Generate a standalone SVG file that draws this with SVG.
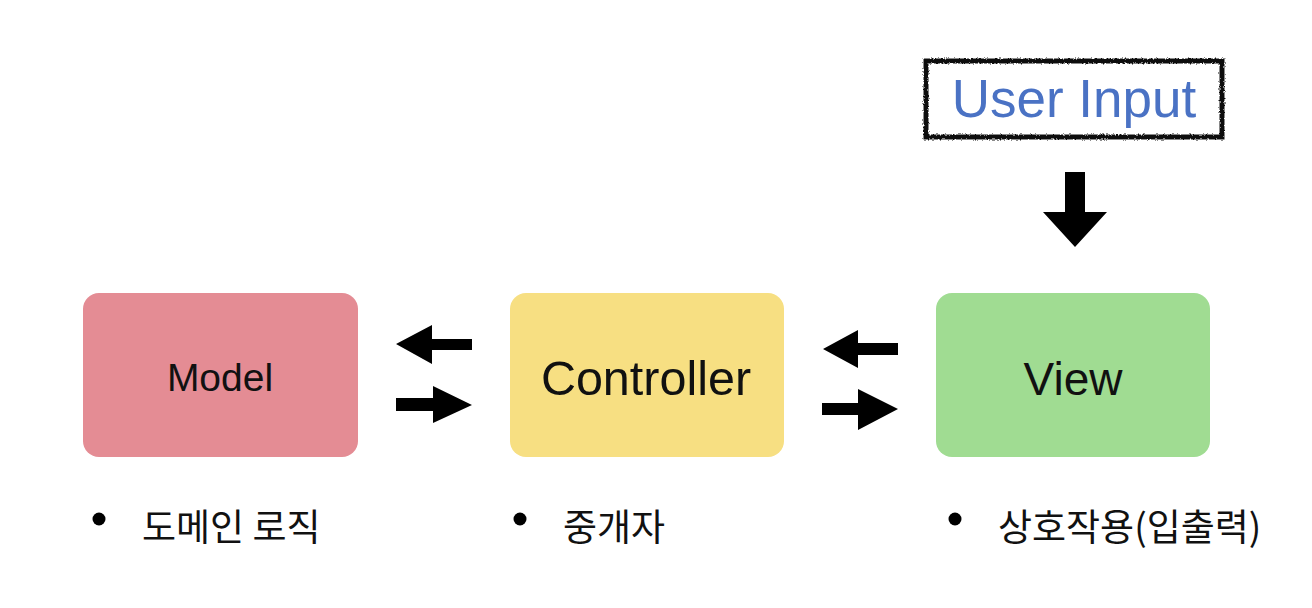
<svg xmlns="http://www.w3.org/2000/svg" width="1312" height="608" viewBox="0 0 1312 608">
  <style>
    .box-text { font-family: "Liberation Sans", Arial, sans-serif; fill: #111; text-anchor: middle; }
    .kr { font-family: "Noto Sans CJK KR", "Noto Sans", sans-serif; font-size: 37px; fill: #111; }
    .arrow { fill: #000; }
    .bullet { fill: #000; }
  </style>
  <defs>
    <filter id="rough" x="-5%" y="-10%" width="110%" height="120%">
      <feTurbulence type="fractalNoise" baseFrequency="0.6" numOctaves="2" seed="3" result="n"/>
      <feDisplacementMap in="SourceGraphic" in2="n" scale="3.5" xChannelSelector="R" yChannelSelector="G"/>
    </filter>
  </defs>
  <rect x="0" y="0" width="1312" height="608" fill="#ffffff"/>

  <g id="user-input">
    <rect x="926" y="61" width="296" height="76" fill="#ffffff" stroke="#111" stroke-width="5" filter="url(#rough)"/>
    <text x="1074" y="117" font-family="'Liberation Sans', Arial, sans-serif" font-size="53" fill="#4a72c4" text-anchor="middle">User Input</text>
  </g>

  <g id="model">
    <rect x="83" y="293" width="275" height="164" rx="16" fill="#e48c94"/>
    <text class="box-text" x="220" y="391" font-size="39">Model</text>
  </g>

  <g id="controller">
    <rect x="510" y="293" width="274" height="164" rx="16" fill="#f7df82"/>
    <text class="box-text" x="646" y="395" font-size="48.5">Controller</text>
  </g>

  <g id="view">
    <rect x="936" y="293" width="274" height="164" rx="16" fill="#a0dc92"/>
    <text class="box-text" x="1073" y="395" font-size="46">View</text>
  </g>

  <g id="connectors">
    <!-- User Input -> View (down) -->
    <polygon class="arrow" points="1065,172 1085,172 1085,212 1107,212 1075,247 1043,212 1065,212"/>
    <!-- Controller -> Model (left) -->
    <polygon class="arrow" points="396,344 432,325 432,339 472,339 472,350 432,350 432,364"/>
    <!-- Model -> Controller (right) -->
    <polygon class="arrow" points="396,398 433,398 433,386 472,405 433,423 433,411 396,411"/>
    <!-- View -> Controller (left) -->
    <polygon class="arrow" points="823,349 858,330 858,343 898,343 898,355 858,355 858,368"/>
    <!-- Controller -> View (right) -->
    <polygon class="arrow" points="822,403 858,403 858,389 898,409 858,430 858,415 822,415"/>
  </g>

  <g id="model-note">
    <circle class="bullet" cx="99" cy="519" r="6.5"/>
    <text class="kr" x="142" y="541">도메인 로직</text>
  </g>
  <g id="controller-note">
    <circle class="bullet" cx="520" cy="519" r="6.5"/>
    <text class="kr" x="563" y="541">중개자</text>
  </g>
  <g id="view-note">
    <circle class="bullet" cx="955" cy="519" r="6.5"/>
    <text class="kr" x="998" y="541">상호작용(입출력)</text>
  </g>
</svg>
